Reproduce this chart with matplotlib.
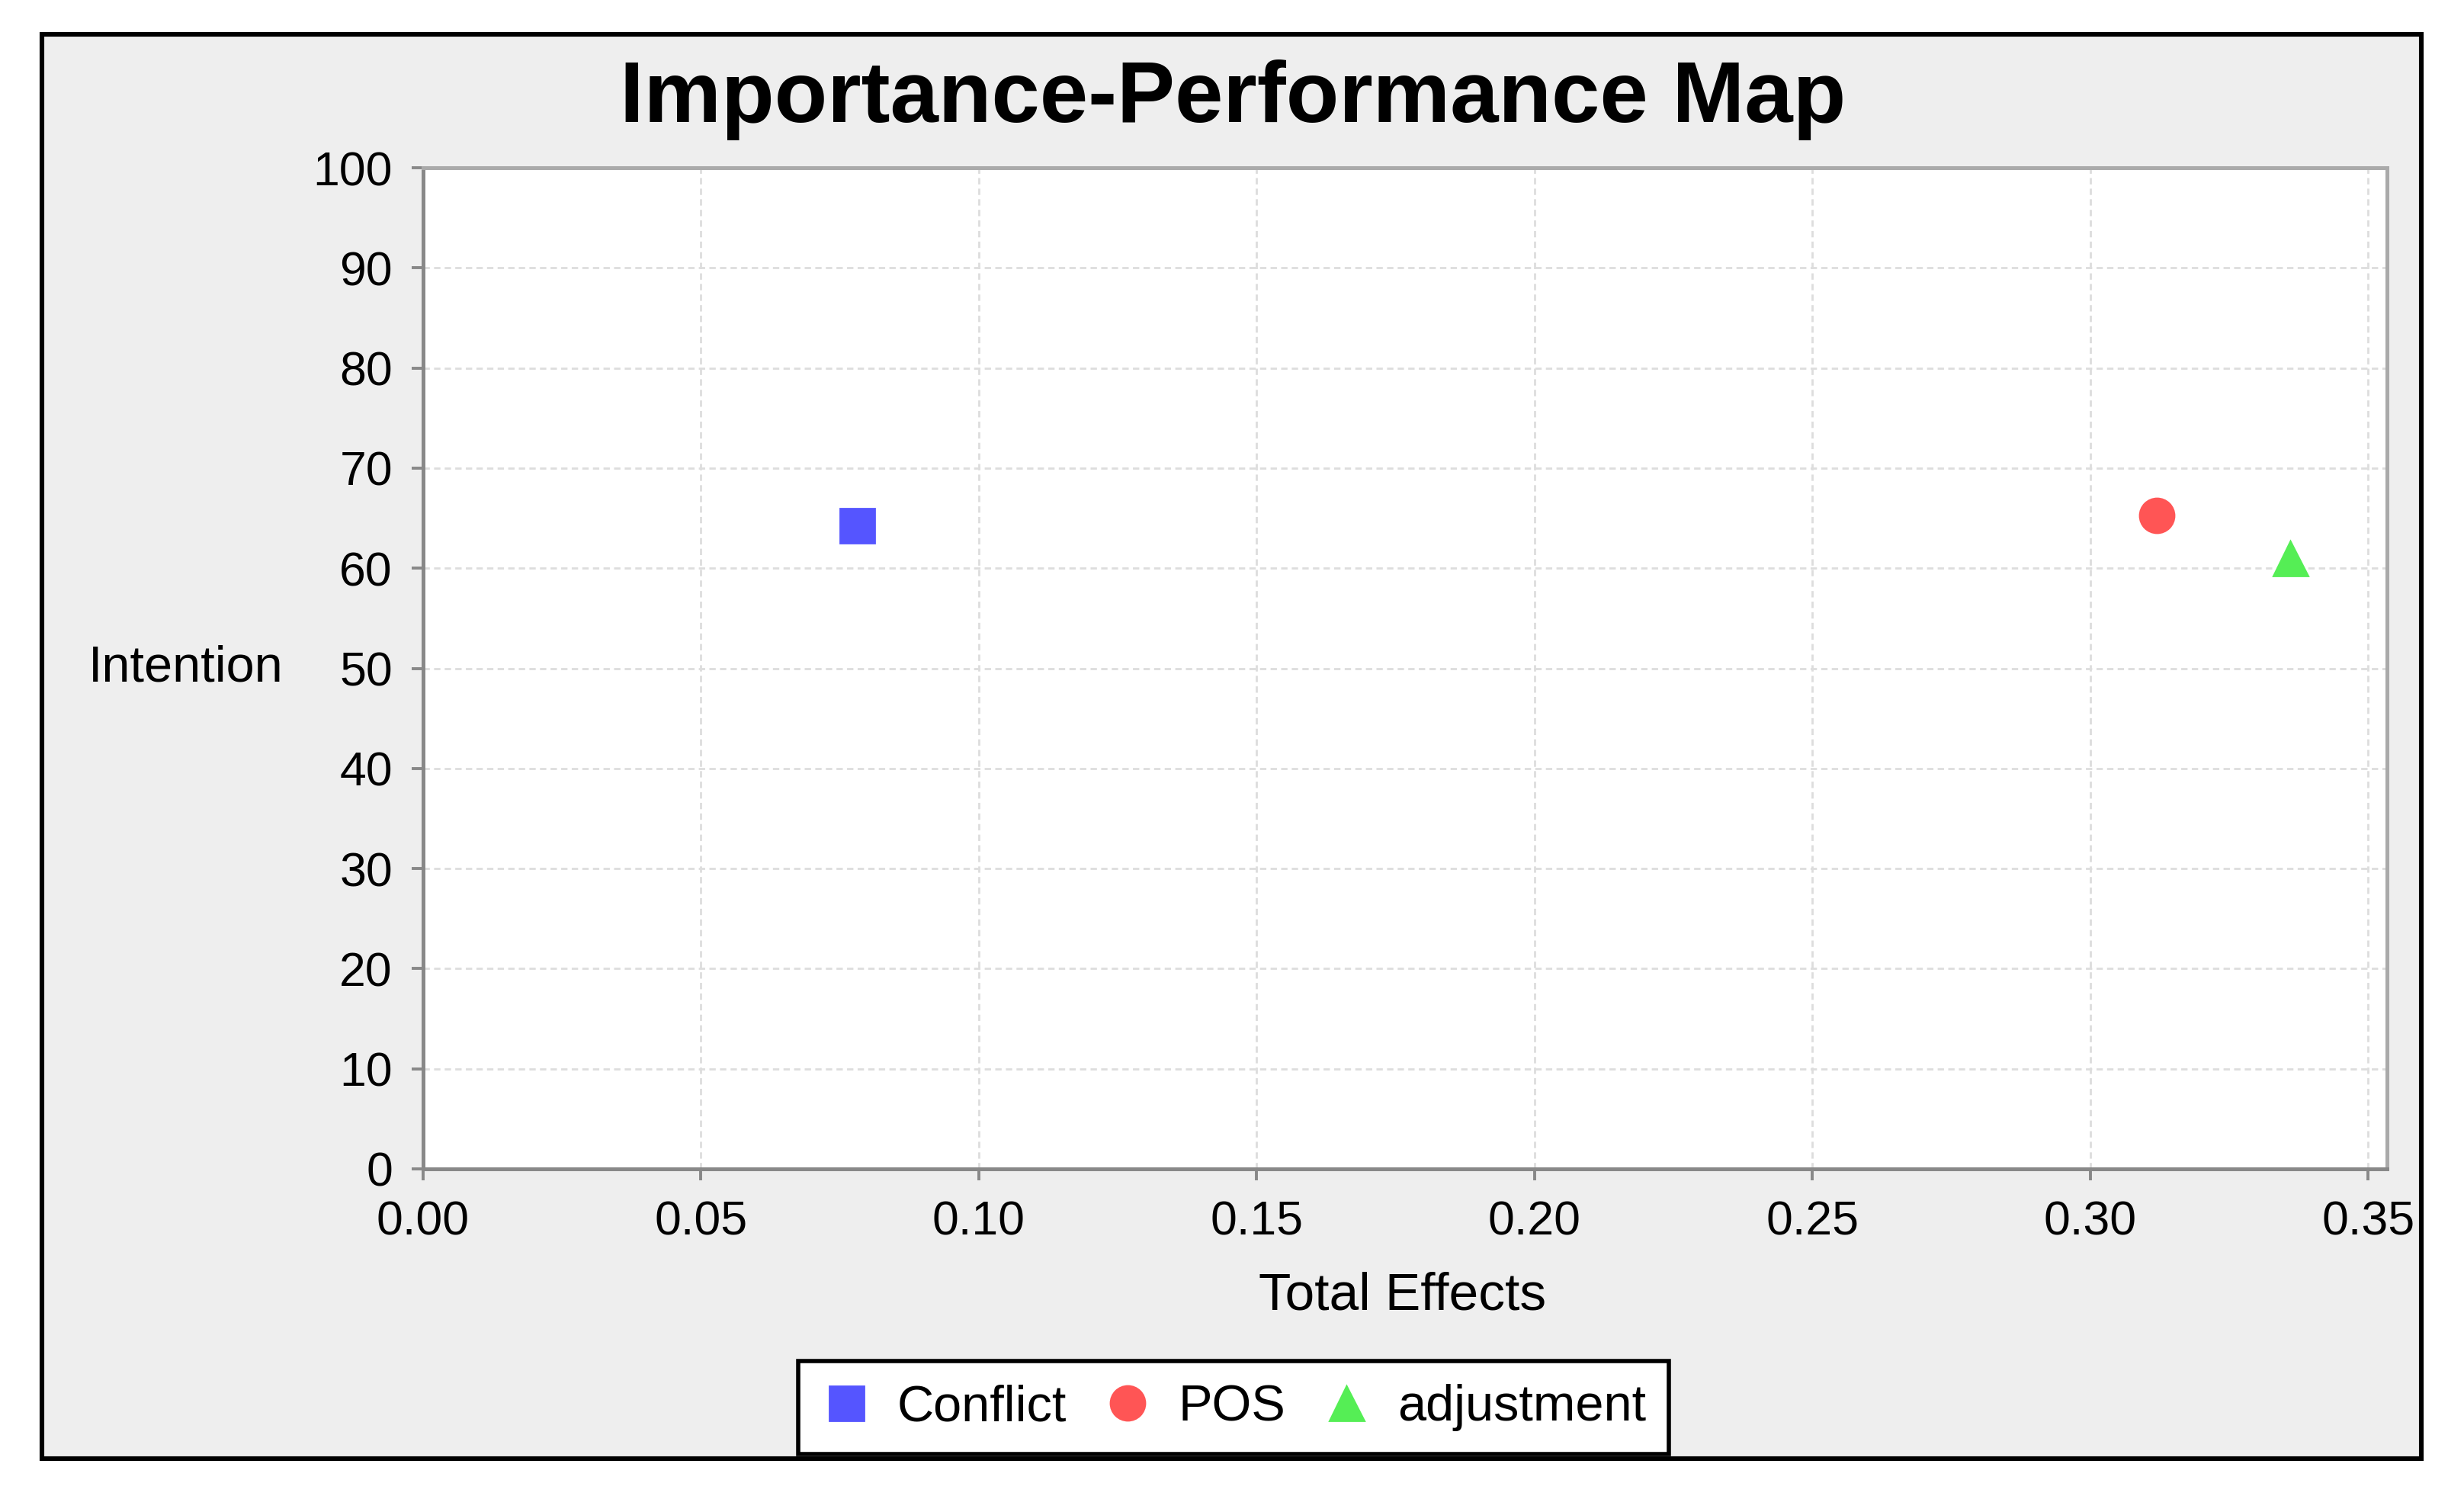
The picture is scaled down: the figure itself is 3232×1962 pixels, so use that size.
import matplotlib
matplotlib.use("Agg")
import matplotlib.pyplot as plt
from matplotlib.patches import Rectangle
from matplotlib.ticker import FormatStrFormatter

plt.rcParams['font.family'] = ['Liberation Sans', 'DejaVu Sans']

# ---- data ----
series_names = ["Conflict", "POS", "adjustment"]
total_effects = [0.078, 0.312, 0.336]
intention = [64.3, 65.3, 61.0]
markers = ["s", "o", "^"]
colors = ["#5555FF", "#FF5555", "#55EE55"]
x_ticks = [0.00, 0.05, 0.10, 0.15, 0.20, 0.25, 0.30, 0.35]
y_ticks = [0, 10, 20, 30, 40, 50, 60, 70, 80, 90, 100]

W, H = 3232, 1962
DPI = 200
fig = plt.figure(figsize=(W / DPI, H / DPI), dpi=DPI)
fig.patch.set_facecolor("white")

# grey chart background with black border
bg = Rectangle((55 / W, 1 - 1913 / H), (3176 - 55) / W, (1913 - 45) / H,
               transform=fig.transFigure, facecolor="#EEEEEE",
               edgecolor="black", linewidth=2.2, zorder=0)
fig.patches.append(bg)

ax = fig.add_axes([555 / W, 1 - 1533 / H, (3131 - 555) / W, (1533 - 220) / H])
ax.set_facecolor("white")
ax.set_zorder(1)

for name, x, y, m, c in zip(series_names, total_effects, intention, markers, colors):
    ax.plot([x], [y], linestyle="none", marker=m, markersize=16.2,
            markerfacecolor=c, markeredgecolor=c, label=name, zorder=3)

ax.set_xlim(0, 0.3534)
ax.set_ylim(0, 100)
ax.set_xticks(x_ticks)
ax.set_yticks(y_ticks)
ax.xaxis.set_major_formatter(FormatStrFormatter("%.2f"))

ax.grid(True, color="#DDDDDD", linewidth=1.0, linestyle=(0, (3, 2)), zorder=0)
ax.set_axisbelow(True)

for side in ["left", "bottom"]:
    ax.spines[side].set_color("#888888")
    ax.spines[side].set_linewidth(1.8)
for side in ["top", "right"]:
    ax.spines[side].set_color("#AAAAAA")
    ax.spines[side].set_linewidth(1.8)

ax.tick_params(axis="both", direction="out", length=5.4, width=1.4,
               color="#888888", labelsize=22.5, labelcolor="black", pad=9)

ax.set_xlabel("Total Effects", fontsize=25, va="baseline")
ax.xaxis.set_label_coords(0.4988, -(1718 - 1533) / 1313)
ax.set_ylabel("Intention", fontsize=24, rotation=0, ha="right", va="center")
ax.yaxis.set_label_coords(-(555 - 372) / 2576, 0.5)

fig.text(1617 / W, 1 - 160 / H, "Importance-Performance Map", ha="center",
         va="baseline", fontsize=41, fontweight="bold")

leg = fig.legend(loc="center", bbox_to_anchor=(1618 / W, 1 - 1846 / H), ncol=3,
                 fontsize=24, frameon=True, fancybox=False, framealpha=1,
                 facecolor="white", edgecolor="black", handlelength=1.0,
                 handletextpad=0.5, columnspacing=0.7, borderpad=0.45,
                 markerscale=1.0)
leg.get_frame().set_linewidth(2.0)

fig.savefig("out.png", dpi=DPI, facecolor="white")
